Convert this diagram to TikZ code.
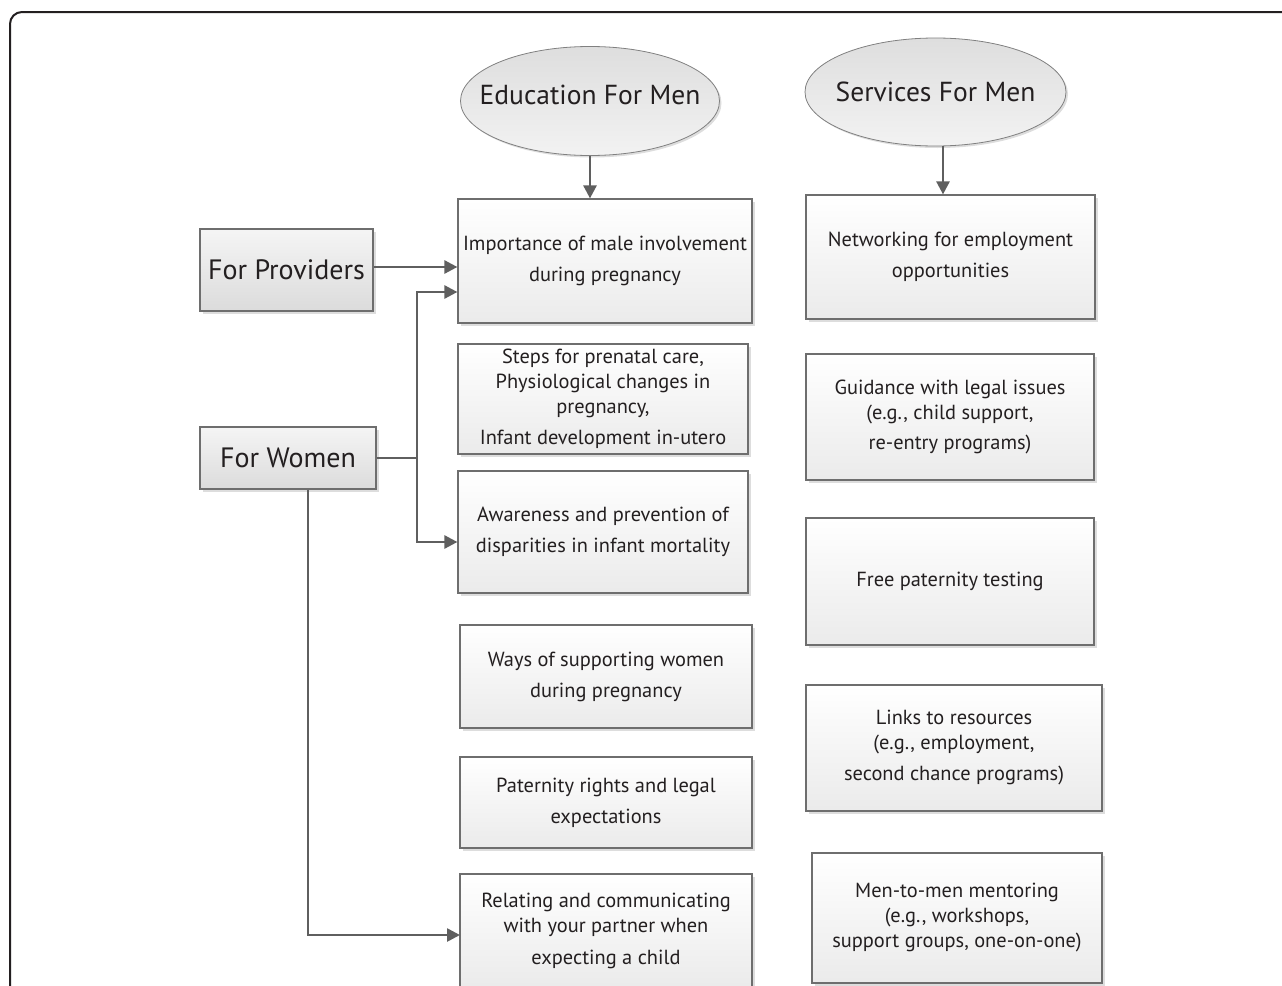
\documentclass[tikz,border=0pt]{standalone}
\usepackage{fontspec}
\newfontfamily\diafont{PT Sans}
\usetikzlibrary{arrows.meta,shadows,shapes.geometric}
\definecolor{ink}{HTML}{231F20}
\definecolor{edgegray}{HTML}{6E6E6E}
\definecolor{arrowgray}{HTML}{5F5F5F}
\definecolor{shade}{HTML}{DDDDDD}
\tikzset{
  box/.style={draw=edgegray, line width=1.2pt, top color=white, bottom color=black!8,
    text=ink, font=\diafont\fontsize{20.4}{25}\selectfont, align=center, inner sep=0pt,
    drop shadow={shadow xshift=3pt, shadow yshift=-3pt, fill=shade, opacity=1}},
  sidebox/.style={box, top color=black!4, bottom color=black!14,
    font=\diafont\fontsize{28}{30}\selectfont},
  oval/.style={ellipse, draw=black!50, line width=0.8pt, top color=black!13, bottom color=black!5,
    text=ink, font=\diafont\fontsize{27.5}{30}\selectfont, inner sep=0pt,
    drop shadow={shadow xshift=2pt, shadow yshift=-2pt, fill=shade, opacity=1}},
  arr/.style={draw=arrowgray, line width=2.6pt, -{Triangle[length=13pt,width=13pt]}},
  frameline/.style={draw=ink, line width=2pt, rounded corners=12pt},
}
\begin{document}
\begin{tikzpicture}[x=1pt,y=-1pt]
\useasboundingbox (0,0) rectangle (1282,985);
\clip (0,0) rectangle (1282,985);
\draw[frameline] (10,1000) -- (10,12) -- (1300,12);

% ellipses
\node[oval, minimum width=259pt, minimum height=109pt] (edu) at (590,101)
  {\makebox[0pt]{\raisebox{-3.5pt}[0pt][0pt]{Education For Men}}};
\node[oval, minimum width=261pt, minimum height=108pt] (svc) at (935.5,92)
  {\makebox[0pt]{\raisebox{-9.5pt}[0pt][0pt]{Services For Men}}};

% left boxes
\node[sidebox, minimum width=173pt, minimum height=82pt] (prov) at (286.5,270) {For Providers};
\node[sidebox, minimum width=176pt, minimum height=62pt] (wom) at (288,458) {For Women};

% education column
\node[box, minimum width=294pt, minimum height=124pt] (b1) at (605,261) {Importance of male involvement\\[6pt]during pregnancy};
\node[box, minimum width=290pt, minimum height=110pt] (b2) at (603,399) {Steps for prenatal care,\\Physiological changes in\\pregnancy,\\[6pt]Infant development in-utero};
\node[box, minimum width=290pt, minimum height=122pt] (b3) at (603,532) {Awareness and prevention of\\[6pt]disparities in infant mortality};
\node[box, minimum width=292pt, minimum height=103pt] (b4) at (606,676.5) {Ways of supporting women\\[6pt]during pregnancy};
\node[box, minimum width=292pt, minimum height=91pt] (b5) at (606,802.5) {Paternity rights and legal\\[6pt]expectations};
\node[box, minimum width=292pt, minimum height=114pt] (b6) at (606,931) {Relating and communicating\\with your partner when\\[7pt]expecting a child};

% services column
\node[box, minimum width=289pt, minimum height=124pt] (r1) at (950.5,257) {Networking for employment\\[6pt]opportunities};
\node[box, minimum width=288pt, minimum height=126pt] (r2) at (950,417) {Guidance with legal issues\\(e.g., child support,\\[5pt]re-entry programs)};
\node[box, minimum width=288pt, minimum height=127pt] (r3) at (950,581.5) {Free paternity testing};
\node[box, minimum width=296pt, minimum height=126pt] (r4) at (954,748) {Links to resources\\(e.g., employment,\\[6pt]second chance programs)};
\node[box, minimum width=290pt, minimum height=130pt] (r5) at (957,918) {Men-to-men mentoring\\(e.g., workshops,\\support groups, one-on-one)};

% connectors
\draw[arr] (edu.south) -- (edu.south |- b1.north);
\coordinate (sv) at ([xshift=7.5pt]svc.south);
\draw[arr] (sv) -- (sv |- r1.north);
\draw[arr] ([yshift=3pt]prov.east) -- ([yshift=3pt]prov.east -| b1.west);
\coordinate (j1) at (417,292);
\coordinate (j2) at (417,542);
\draw[arr] (wom.east) -| (j1) -- (j1 -| b1.west);
\draw[arr] (wom.east) -| (j2) -- (j2 -| b3.west);
\coordinate (wd) at ([xshift=20pt]wom.south);
\coordinate (e6) at (460,935);
\draw[arr] (wd) |- (e6);
\end{tikzpicture}
\end{document}
